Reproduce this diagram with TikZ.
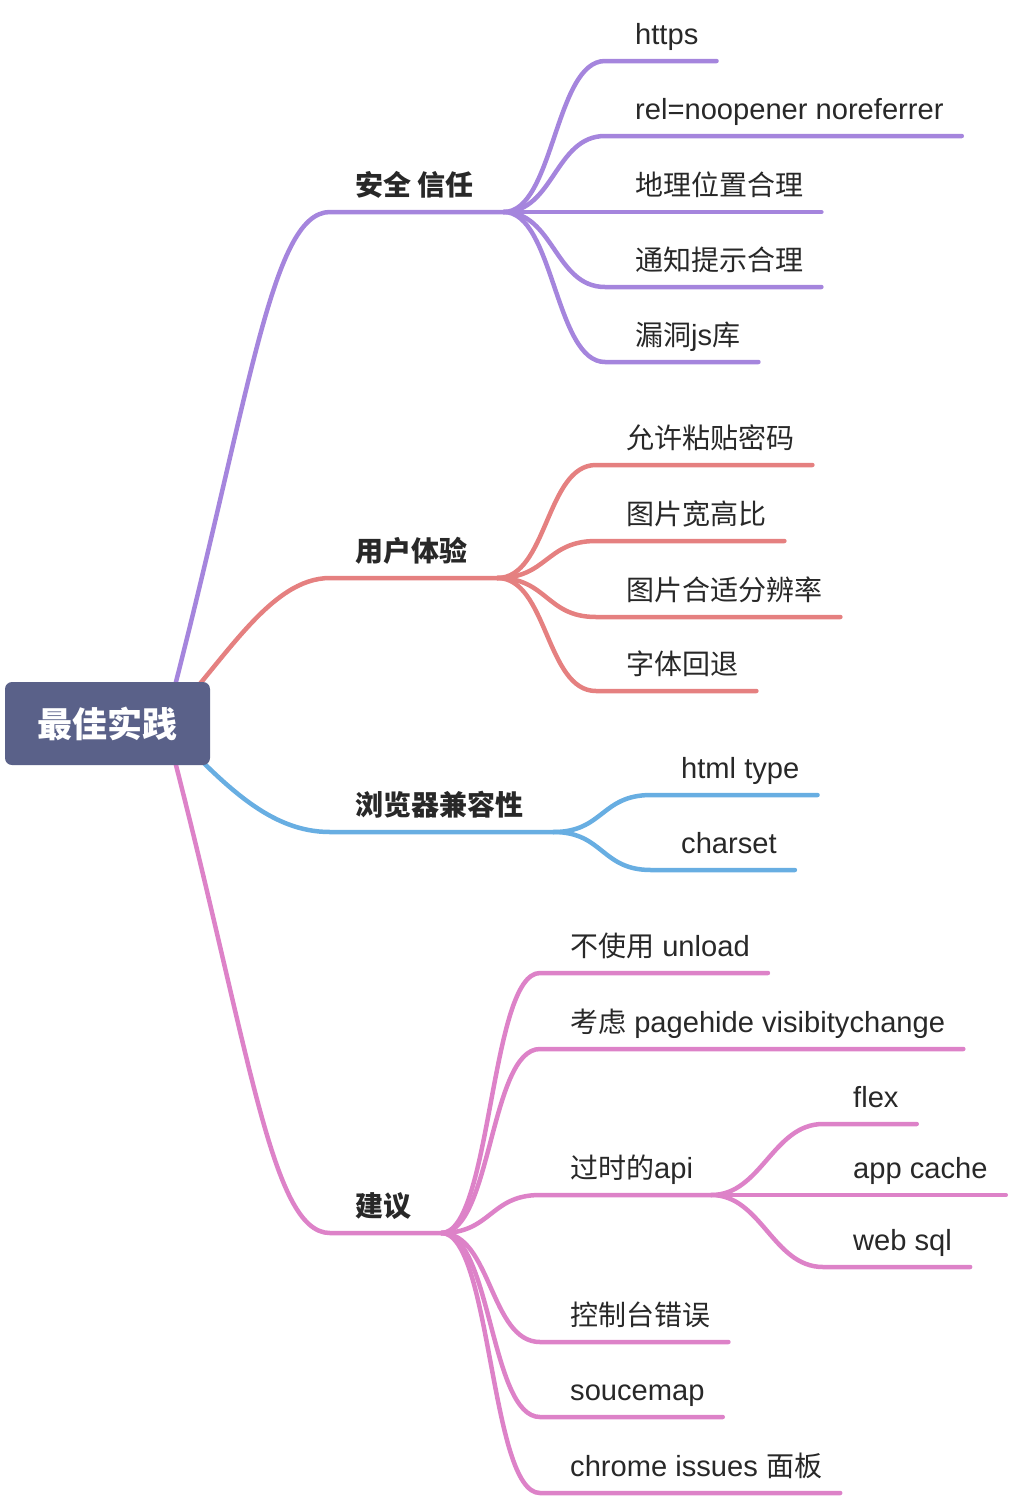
\documentclass[tikz,border=0pt]{standalone}
\usepackage{fontspec}
\setmainfont{Liberation Sans}[Scale=1.04]
\newfontfamily\cjk{Noto Sans CJK SC}
\usetikzlibrary{backgrounds}

\definecolor{rootfill}{RGB}{90,97,137}
\definecolor{textgray}{RGB}{40,40,40}
\definecolor{safecol}{RGB}{165,133,221}
\definecolor{uxcol}{RGB}{229,128,128}
\definecolor{compatcol}{RGB}{104,174,226}
\definecolor{advicecol}{RGB}{221,130,200}

\begin{document}
\begin{tikzpicture}[
    x=1pt, y=-1pt,
    root/.style={rectangle, rounded corners=7pt, fill=rootfill, text=white, minimum width=205pt, minimum height=83pt, font=\fontsize{35}{40}\selectfont\bfseries\cjk},
    topic/.style={anchor=base west, inner sep=0pt, text=textgray, font=\fontsize{28}{32}\selectfont\bfseries\cjk},
    leaf/.style={anchor=base west, inner sep=0pt, text=textgray, font=\fontsize{28}{32}\selectfont},
    branch/.style={line width=4.5pt, line cap=round}
]
\useasboundingbox (0,0) rectangle (1010,1500);

% ============= ROOT =============
\node[root] (root) at (107.5,723.5) {最佳实践};
\coordinate (hub) at ([xshift=-45pt]root.east);

% ============= MAIN TOPICS =============
\node[topic] (safe) at (355,195) {安全 信任};
\node[topic] (ux) at (355,561) {用户体验};
\node[topic] (compat) at (355,815) {浏览器兼容性};
\node[topic] (advice) at (355,1216) {建议};

\begin{scope}[on background layer]
\draw[branch, safecol] (hub) .. controls +(85,-323) and +(-60,0) .. ([shift={(-25,17)}]safe.base west) -- ([shift={(30,17)}]safe.base east) coordinate (safe-out);
\draw[branch, uxcol] (hub) .. controls +(60,-63) and +(-60,0) .. ([shift={(-25,17)}]ux.base west) -- ([shift={(30,17)}]ux.base east) coordinate (ux-out);
\draw[branch, compatcol] (hub) .. controls +(60,63) and +(-60,0) .. ([shift={(-25,17)}]compat.base west) -- ([shift={(30,17)}]compat.base east) coordinate (compat-out);
\draw[branch, advicecol] (hub) .. controls +(85,323) and +(-60,0) .. ([shift={(-25,17)}]advice.base west) -- ([shift={(30,17)}]advice.base east) coordinate (advice-out);
\end{scope}

% ============= 安全 信任 =============
\foreach \nm/\ly/\txt in {https/61/{https}, rel/136/{rel=noopener noreferrer}, geo/212/{{\cjk 地理位置合理}}, notify/287/{{\cjk 通知提示合理}}, vuln/362/{{\cjk 漏洞}js{\cjk 库}}} {
    \node[leaf] (\nm) at (635,\ly-17) {\txt};
    \draw[branch, safecol] (safe-out) .. controls +(50,0) and +(-50,0) .. ([shift={(-30,17)}]\nm.base west) -- ([shift={(18,17)}]\nm.base east);
}

% ============= 用户体验 =============
\foreach \nm/\ly/\txt in {paste/465/{{\cjk 允许粘贴密码}}, ratio/541/{{\cjk 图片宽高比}}, dpr/617/{{\cjk 图片合适分辨率}}, fallback/691/{{\cjk 字体回退}}} {
    \node[leaf] (\nm) at (626,\ly-17) {\txt};
    \draw[branch, uxcol] (ux-out) .. controls +(50,0) and +(-50,0) .. ([shift={(-30,17)}]\nm.base west) -- ([shift={(18,17)}]\nm.base east);
}

% ============= 浏览器兼容性 =============
\foreach \nm/\ly/\txt in {doctype/795/{html type}, charset/870/{charset}} {
    \node[leaf] (\nm) at (681,\ly-17) {\txt};
    \draw[branch, compatcol] (compat-out) .. controls +(50,0) and +(-50,0) .. ([shift={(-30,17)}]\nm.base west) -- ([shift={(18,17)}]\nm.base east);
}

% ============= 建议 =============
\foreach \nm/\ly/\txt in {unload/973/{{\cjk 不使用} unload}, pagehide/1049/{{\cjk 考虑} pagehide visibitychange}, api/1195/{{\cjk 过时的}api}, console/1342/{{\cjk 控制台错误}}, srcmap/1417/{soucemap}, issues/1493/{chrome issues {\cjk 面板}}} {
    \node[leaf] (\nm) at (570,\ly-17) {\txt};
    \draw[branch, advicecol] (advice-out) .. controls +(50,0) and +(-50,0) .. ([shift={(-30,17)}]\nm.base west) -- ([shift={(18,17)}]\nm.base east);
}

% outdated apis
\coordinate (api-out) at ([shift={(18,17)}]api.base east);
\foreach \nm/\ly/\txt in {flex/1124/{flex}, appcache/1195/{app cache}, websql/1267/{web sql}} {
    \node[leaf] (\nm) at (853,\ly-17) {\txt};
    \draw[branch, advicecol] (api-out) .. controls +(50,0) and +(-50,0) .. ([shift={(-30,17)}]\nm.base west) -- ([shift={(18,17)}]\nm.base east);
}

\end{tikzpicture}
\end{document}
